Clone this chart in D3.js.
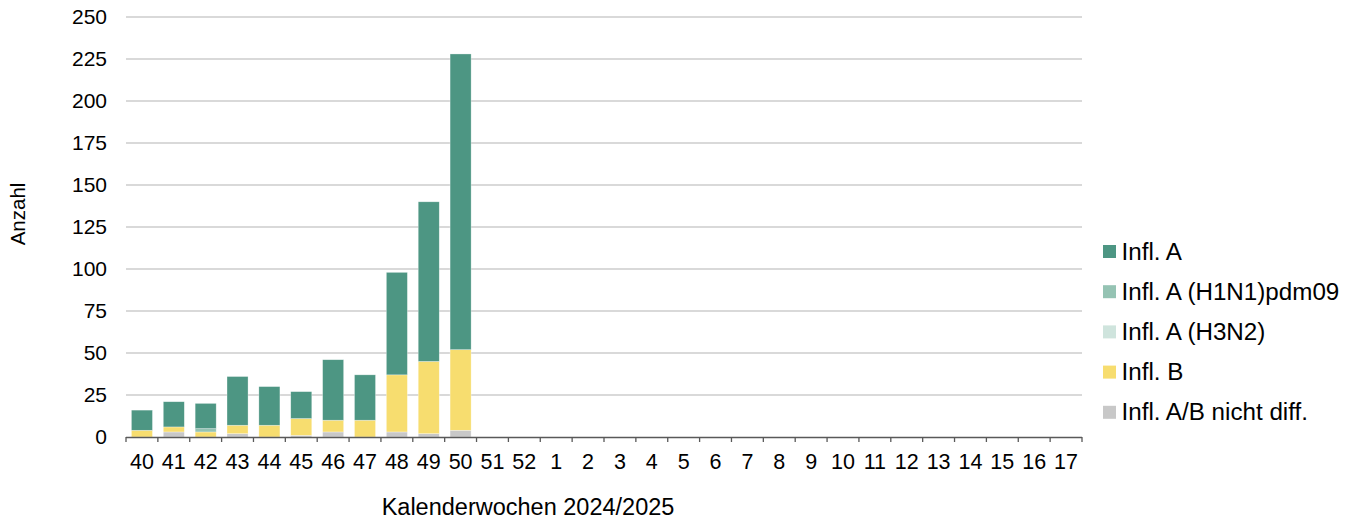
<!DOCTYPE html>
<html>
<head>
<meta charset="utf-8">
<script src="https://cdn.jsdelivr.net/npm/d3@7"></script>
<style>
  body { margin: 0; background: #fff; }
  text { font-family: "Liberation Sans", Arial, sans-serif; fill: #000; }
</style>
</head>
<body>
<svg id="chart" width="1356" height="523"></svg>
<script>
var weeks = ["40","41","42","43","44","45","46","47","48","49","50","51","52",
             "1","2","3","4","5","6","7","8","9","10","11","12","13","14","15","16","17"];

// values per week, same order as weeks (only 40-50 have data)
var nichtDiff = [0, 3, 0, 2, 0, 1, 3, 0, 3, 2, 4];
var inflB     = [4, 3, 3, 5, 7, 10, 7, 10, 34, 43, 48];
var inflH3N2  = [0, 0, 0, 0, 0, 0, 0, 0, 0, 0, 0];
var inflH1N1  = [0, 0, 2, 0, 0, 0, 0, 0, 0, 0, 0];
var inflA     = [12, 15, 15, 29, 23, 16, 36, 27, 61, 95, 176];

var seriesNames = ["Infl. A/B nicht diff.", "Infl. B", "Infl. A (H3N2)", "Infl. A (H1N1)pdm09", "Infl. A"];
var seriesColors = ["#c8c8c8", "#f7dd6f", "#cfe4dd", "#95c3b3", "#4d9683"];
var yTicks = [0, 25, 50, 75, 100, 125, 150, 175, 200, 225, 250];

var rows = weeks.map(function(w, i) {
  return {
    week: w,
    "Infl. A/B nicht diff.": nichtDiff[i] || 0,
    "Infl. B": inflB[i] || 0,
    "Infl. A (H3N2)": inflH3N2[i] || 0,
    "Infl. A (H1N1)pdm09": inflH1N1[i] || 0,
    "Infl. A": inflA[i] || 0
  };
});

var svg = d3.select("#chart");
var plotLeft = 126, plotRight = 1082, plotTop = 17, plotBottom = 437;

var x = d3.scaleBand().domain(weeks).range([plotLeft, plotRight]).paddingInner(0.34).paddingOuter(0.17);
var y = d3.scaleLinear().domain([0, 250]).range([plotBottom, plotTop]);

// gridlines
svg.append("g").selectAll("line")
  .data(yTicks.slice(1))
  .enter().append("line")
  .attr("x1", plotLeft).attr("x2", plotRight)
  .attr("y1", function(d) { return y(d); })
  .attr("y2", function(d) { return y(d); })
  .attr("stroke", "#d9d9d9")
  .attr("stroke-width", 2);

// y labels
svg.append("g").selectAll("text")
  .data(yTicks)
  .enter().append("text")
  .attr("x", 107)
  .attr("y", function(d) { return y(d) + 7; })
  .attr("text-anchor", "end")
  .style("font-size", "21px")
  .text(function(d) { return d; });

// stacked bars
var stack = d3.stack().keys(seriesNames)(rows);
svg.append("g").selectAll("g")
  .data(stack)
  .enter().append("g")
  .attr("fill", function(d, i) { return seriesColors[i]; })
  .selectAll("rect")
  .data(function(d) { return d; })
  .enter().append("rect")
  .filter(function(d) { return d[1] - d[0] > 0; })
  .attr("x", function(d) { return x(d.data.week); })
  .attr("width", x.bandwidth())
  .attr("y", function(d) { return y(d[1]); })
  .attr("height", function(d) { return y(d[0]) - y(d[1]); })
  .attr("stroke", "#ffffff")
  .attr("stroke-opacity", 0.5)
  .attr("stroke-width", 0.6);

// x axis
var step = (plotRight - plotLeft) / weeks.length;
var xAxis = svg.append("g");
xAxis.append("line")
  .attr("x1", plotLeft).attr("x2", plotRight)
  .attr("y1", plotBottom + 0.5).attr("y2", plotBottom + 0.5)
  .attr("stroke", "#595959").attr("stroke-width", 1.3);
xAxis.selectAll("line.tick")
  .data(d3.range(weeks.length + 1))
  .enter().append("line")
  .attr("class", "tick")
  .attr("x1", function(d) { return plotLeft + d * step; })
  .attr("x2", function(d) { return plotLeft + d * step; })
  .attr("y1", plotBottom).attr("y2", plotBottom + 5)
  .attr("stroke", "#595959").attr("stroke-width", 1.3);
xAxis.selectAll("text")
  .data(weeks)
  .enter().append("text")
  .attr("x", function(d) { return x(d) + x.bandwidth() / 2; })
  .attr("y", 469)
  .attr("text-anchor", "middle")
  .style("font-size", "21.5px")
  .text(function(d) { return d; });

// axis titles
svg.append("text")
  .attr("x", 528)
  .attr("y", 515)
  .attr("text-anchor", "middle")
  .style("font-size", "23.5px")
  .text("Kalenderwochen 2024/2025");

svg.append("text")
  .attr("transform", "translate(25,214) rotate(-90)")
  .attr("text-anchor", "middle")
  .style("font-size", "20.5px")
  .text("Anzahl");

// legend (top to bottom reversed order)
var legendItems = seriesNames.slice().reverse();
var legendColors = seriesColors.slice().reverse();
var legend = svg.append("g").selectAll("g")
  .data(legendItems)
  .enter().append("g")
  .attr("transform", function(d, i) { return "translate(1103," + (251.5 + i * 40.2) + ")"; });
legend.append("rect")
  .attr("x", 0).attr("y", -6.5)
  .attr("width", 13).attr("height", 13)
  .attr("fill", function(d, i) { return legendColors[i]; });
legend.append("text")
  .attr("x", 18.5).attr("y", 8)
  .style("font-size", "24.2px")
  .text(function(d) { return d; });
</script>
</body>
</html>
